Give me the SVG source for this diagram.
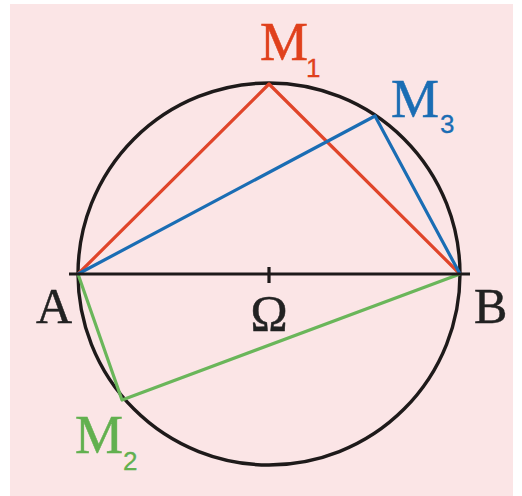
<svg xmlns="http://www.w3.org/2000/svg" width="522" height="496" viewBox="0 0 522 496">
<style>
.lbl{font-family:"Liberation Serif","DejaVu Serif",serif;stroke-width:0.5px;}
.sub{font-family:"Liberation Sans","DejaVu Sans",sans-serif;font-size:26px;}
.red{fill:#e0401c;stroke:#e0401c}.blue{fill:#1a6db4;stroke:#1a6db4}.green{fill:#62b04f;stroke:#62b04f}.blk{fill:#222;stroke:#222}
.sub{stroke-width:0.3px}
.l{fill:none;stroke-width:3.2;stroke-linejoin:round}
</style>
<rect x="0" y="0" width="522" height="496" fill="#ffffff"/>
<rect x="10" y="4" width="503" height="492" fill="#fbe5e6"/>
<g id="circle"><circle cx="269" cy="274" r="191" fill="none" stroke="#1e1a1a" stroke-width="3.4"/></g>
<g id="connectors">
<polyline class="l" points="78,274 122,400 460,274" stroke="#6ab65a"/>
<polyline class="l" points="78,274 269,84 460,274" stroke="#e0452a"/>
<polyline class="l" points="78,274 375,116 460,274" stroke="#1a6db4"/>
<line x1="69" y1="274" x2="470" y2="274" stroke="#1e1a1a" stroke-width="3.2"/>
<line x1="269" y1="267" x2="269" y2="283" stroke="#1e1a1a" stroke-width="3.2"/>
</g>
<g id="A"><text class="lbl blk" x="36" y="323" font-size="50">A</text></g>
<g id="B"><text class="lbl blk" x="474" y="323" font-size="50">B</text></g>
<g id="Omega"><text class="lbl blk" x="269" y="330" font-size="50" text-anchor="middle">Ω</text></g>
<g id="M1"><text class="lbl red" x="260" y="60" font-size="54">M</text><text class="sub red" x="306" y="77">1</text></g>
<g id="M3"><text class="lbl blue" x="391" y="117" font-size="54">M</text><text class="sub blue" x="440" y="133">3</text></g>
<g id="M2"><text class="lbl green" x="75" y="453" font-size="54">M</text><text class="sub green" x="123" y="470">2</text></g>
</svg>
